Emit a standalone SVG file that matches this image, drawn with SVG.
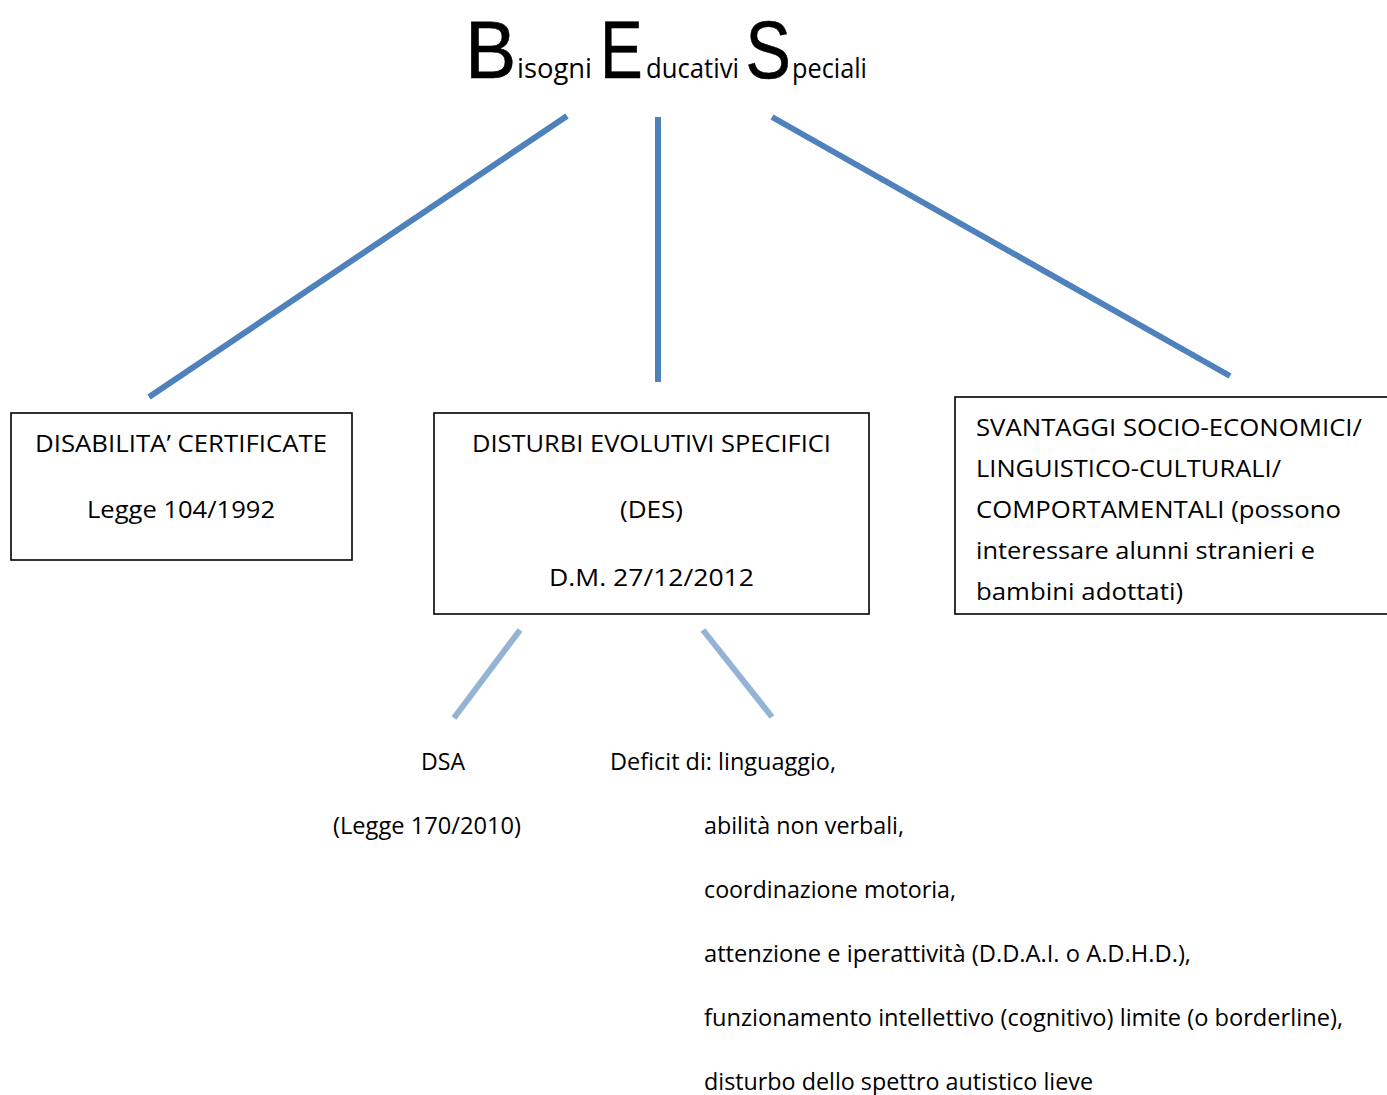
<svg xmlns="http://www.w3.org/2000/svg" width="1387" height="1095" viewBox="0 0 1387 1095">
<style>
text{font-family:"Open Sans","Noto Sans","Liberation Sans",sans-serif;fill:#000;}
.t{font-size:23px;}
.big{font-family:"Liberation Sans","Open Sans",sans-serif;font-size:81px;stroke:#000;stroke-width:0.6;}
.sm{font-size:27px;}
.box{fill:#fff;stroke:#000;stroke-width:1.6;}
.main{stroke:#4F81BD;stroke-width:6;fill:none;}
.sub{stroke:#95B3D7;stroke-width:6;fill:none;}
</style>
<rect width="1387" height="1095" fill="#fff"/>
<g id="title">
<text class="big" transform="translate(465,78) scale(0.95,1)">B</text>
<text class="sm" x="517" y="78" textLength="75" lengthAdjust="spacingAndGlyphs">isogni</text>
<text class="big" transform="translate(600,78) scale(0.79,1)">E</text>
<text class="sm" x="646" y="78" textLength="93" lengthAdjust="spacingAndGlyphs">ducativi</text>
<text class="big" transform="translate(745.5,78) scale(0.84,1)">S</text>
<text class="sm" x="792" y="78" textLength="75" lengthAdjust="spacingAndGlyphs">peciali</text>
</g>
<g id="connectors">
<line class="main" x1="567" y1="116" x2="149" y2="397"/>
<line class="main" x1="658" y1="117" x2="658" y2="382"/>
<line class="main" x1="772" y1="117" x2="1230" y2="376"/>
<line class="sub" x1="520" y1="630" x2="454" y2="718"/>
<line class="sub" x1="703" y1="630" x2="772" y2="717"/>
</g>
<g id="disabilita">
<rect class="box" x="11" y="413" width="341" height="147"/>
<text class="t" x="35" y="452" textLength="292" lengthAdjust="spacingAndGlyphs">DISABILITA’ CERTIFICATE</text>
<text class="t" x="87" y="518" textLength="188" lengthAdjust="spacingAndGlyphs">Legge 104/1992</text>
</g>
<g id="des">
<rect class="box" x="434" y="413" width="435" height="201"/>
<text class="t" x="472" y="452" textLength="359" lengthAdjust="spacingAndGlyphs">DISTURBI EVOLUTIVI SPECIFICI</text>
<text class="t" x="620" y="518" textLength="63" lengthAdjust="spacingAndGlyphs">(DES)</text>
<text class="t" x="549" y="586" textLength="205" lengthAdjust="spacingAndGlyphs">D.M. 27/12/2012</text>
</g>
<g id="svantaggi">
<rect class="box" x="955" y="397" width="440" height="217"/>
<text class="t" x="976" y="436" textLength="386" lengthAdjust="spacingAndGlyphs">SVANTAGGI SOCIO-ECONOMICI/</text>
<text class="t" x="976" y="477" textLength="305" lengthAdjust="spacingAndGlyphs">LINGUISTICO-CULTURALI/</text>
<text class="t" x="976" y="518" textLength="365" lengthAdjust="spacingAndGlyphs">COMPORTAMENTALI (possono</text>
<text class="t" x="976" y="559" textLength="339" lengthAdjust="spacingAndGlyphs">interessare alunni stranieri e</text>
<text class="t" x="976" y="600" textLength="207" lengthAdjust="spacingAndGlyphs">bambini adottati)</text>
</g>
<g id="dsa">
<text class="t" x="421" y="770" textLength="44" lengthAdjust="spacingAndGlyphs">DSA</text>
<text class="t" x="333" y="834" textLength="188" lengthAdjust="spacingAndGlyphs">(Legge 170/2010)</text>
</g>
<g id="deficit">
<text class="t" x="610" y="770" textLength="226" lengthAdjust="spacingAndGlyphs">Deficit di: linguaggio,</text>
<text class="t" x="704" y="834" textLength="200" lengthAdjust="spacingAndGlyphs">abilità non verbali,</text>
<text class="t" x="704" y="898" textLength="252" lengthAdjust="spacingAndGlyphs">coordinazione motoria,</text>
<text class="t" x="704" y="962" textLength="487" lengthAdjust="spacingAndGlyphs">attenzione e iperattività (D.D.A.I. o A.D.H.D.),</text>
<text class="t" x="704" y="1026" textLength="639" lengthAdjust="spacingAndGlyphs">funzionamento intellettivo (cognitivo) limite (o borderline),</text>
<text class="t" x="704" y="1090" textLength="389" lengthAdjust="spacingAndGlyphs">disturbo dello spettro autistico lieve</text>
</g>
</svg>
